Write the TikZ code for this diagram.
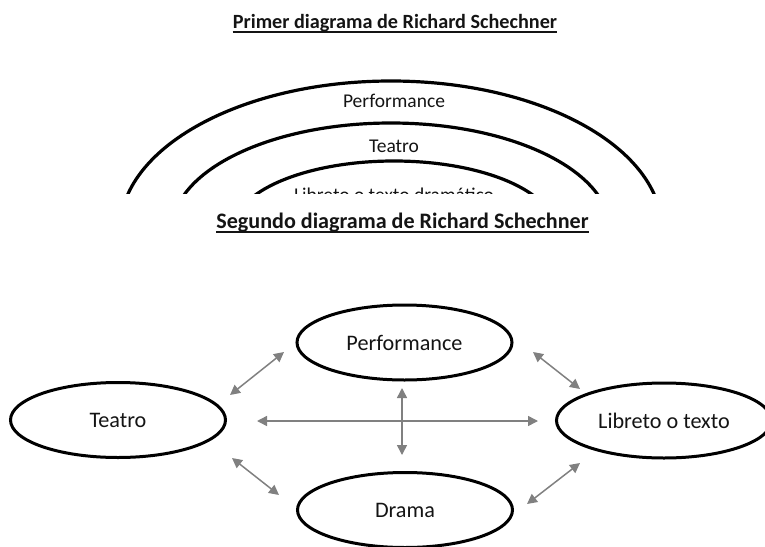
\documentclass[tikz,border=0pt]{standalone}
\usepackage{fontspec}
\setmainfont{Carlito}
\usetikzlibrary{shapes.geometric,arrows.meta}
\definecolor{linkgray}{HTML}{808080}
\definecolor{inkblack}{HTML}{141414}
\begin{document}
\begin{tikzpicture}[x=1pt,y=-1pt,
  every node/.style={text=inkblack},
  heading/.style={font=\bfseries\fontsize{20.2}{24}\selectfont, anchor=base, inner sep=0pt},
  headingbig/.style={font=\bfseries\fontsize{22.1}{26}\selectfont, anchor=base, inner sep=0pt},
  uline/.style={line width=1.2pt, draw=inkblack},
  ring/.style={line width=3.2pt, draw=black},
  ringtext/.style={anchor=base, inner sep=0pt, font=\fontsize{19.5}{23}\selectfont},
  bubble/.style={draw=black, line width=3pt, ellipse, minimum width=215pt,
    minimum height=75pt, inner sep=0pt, font=\fontsize{22.2}{26}\selectfont},
  link/.style={draw=linkgray, line width=1.5pt,
    {Triangle[length=10pt,width=10pt]}-{Triangle[length=10pt,width=10pt]}}]

\useasboundingbox (0,0) rectangle (765,546);

% ---- first diagram: nested arcs, cut off at the bottom
\node[heading] (t1) at (395,28.5) {Primer diagrama de Richard Schechner};
\draw[uline] ([yshift=-3.5pt]t1.base west) -- ([yshift=-3.5pt]t1.base east);

\begin{scope}
  \clip (0,0) rectangle (765,193.5);
  \draw[ring] (391,230) ellipse [x radius=271, y radius=149];
  \draw[ring] (391,230) ellipse [x radius=219, y radius=107];
  \draw[ring] (394,230) ellipse [x radius=161, y radius=69];
  \node[ringtext] (p1) at (394,107) {Performance};
  \node[ringtext] (t1b) at (394,152.5) {Teatro};
  \node[ringtext] (l1) at (394,201.5) {Libreto o texto dramático};
\end{scope}

% ---- second diagram: four ellipses joined by double arrows
\node[headingbig] (t2) at (402.5,228) {Segundo diagrama de Richard Schechner};
\draw[uline] ([yshift=-4pt]t2.base west) -- ([yshift=-4pt]t2.base east);

\node[bubble] (teatro) at (118,420) {Teatro};
\node[bubble] (perf) at (404.5,342.5) {Performance};
\node[bubble] (drama) at (405,510) {Drama};
\node[bubble] (libreto) at (664,420.5) {Libreto o texto};

\coordinate (a1) at (230,395);  \coordinate (a2) at (284,352);
\coordinate (b1) at (232,458);  \coordinate (b2) at (279,495);
\coordinate (c1) at (257,421);  \coordinate (c2) at (538,421);
\coordinate (d1) at (402,388);  \coordinate (d2) at (402,455);
\coordinate (e1) at (533,352);  \coordinate (e2) at (580,389);
\coordinate (f1) at (527,504);  \coordinate (f2) at (580,463);

\draw[link] (a1) -- (a2);
\draw[link] (b1) -- (b2);
\draw[link] (c1) -- (c2);
\draw[link] (d1) -- (d2);
\draw[link] (e1) -- (e2);
\draw[link] (f1) -- (f2);
\end{tikzpicture}
\end{document}
